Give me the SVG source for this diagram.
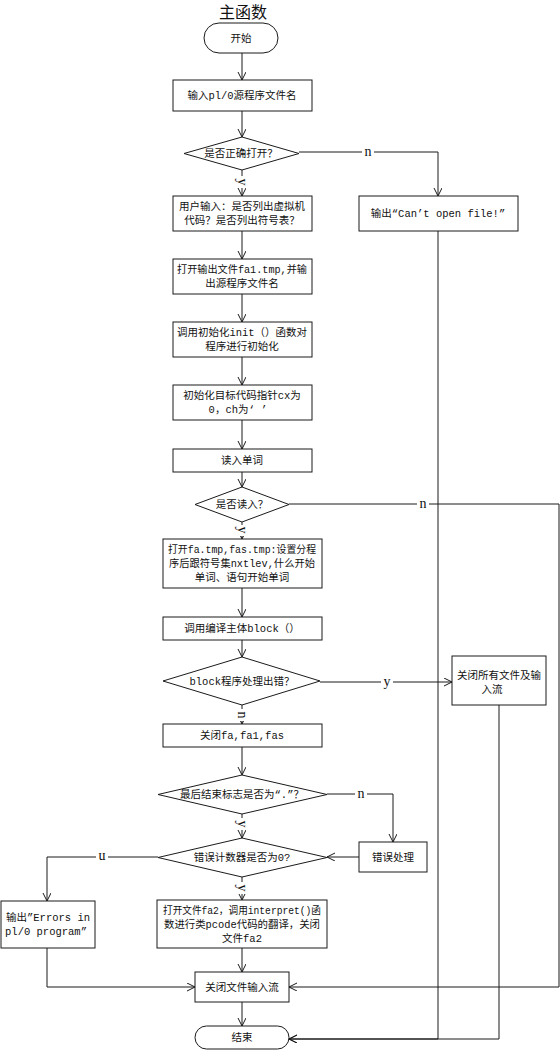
<svg xmlns="http://www.w3.org/2000/svg" width="560" height="1050" viewBox="0 0 560 1050">
  <style>
    .shape { fill: #ffffff; stroke: #1a1a1a; stroke-width: 1; }
    .txt { font-family: "Liberation Mono", "Noto Sans CJK SC", monospace; font-size: 10.5px; fill: #111; text-anchor: middle; }
    .title { font-family: "Noto Sans CJK SC", sans-serif; font-size: 16px; fill: #111; text-anchor: middle; }
    .wire { fill: none; stroke: #1a1a1a; stroke-width: 1; }
    .lbl { font-family: "Liberation Serif", serif; font-size: 14px; fill: #111; text-anchor: middle; }
    .lblbg { fill: #ffffff; }
  </style>
  <defs>
    <marker id="arrow" markerWidth="10" markerHeight="10" refX="8" refY="4" orient="auto" markerUnits="userSpaceOnUse">
      <path d="M0,0 L8,4 L0,8" fill="none" stroke="#1a1a1a" stroke-width="1"/>
    </marker>
  </defs>
  <rect width="560" height="1050" fill="#ffffff"/>

  <text class="title" x="243" y="18">主函数</text>

  <!-- connectors -->
  <g id="connectors">
    <path class="wire" d="M242,53 L242,80" marker-end="url(#arrow)"/>
    <path class="wire" d="M242,111 L242,137" marker-end="url(#arrow)"/>
    <path class="wire" d="M242,170 L242,196" marker-end="url(#arrow)"/>
    <path class="wire" d="M299,152 L438,152 L438,196" marker-end="url(#arrow)"/>
    <path class="wire" d="M242,231 L242,259" marker-end="url(#arrow)"/>
    <path class="wire" d="M242,294 L242,322" marker-end="url(#arrow)"/>
    <path class="wire" d="M242,357 L242,385" marker-end="url(#arrow)"/>
    <path class="wire" d="M242,420 L242,449" marker-end="url(#arrow)"/>
    <path class="wire" d="M242,472 L242,487" marker-end="url(#arrow)"/>
    <path class="wire" d="M289,504 L559,504 L559,987 L289,987" marker-end="url(#arrow)"/>
    <path class="wire" d="M242,522 L242,539" marker-end="url(#arrow)"/>
    <path class="wire" d="M242,588 L242,617" marker-end="url(#arrow)"/>
    <path class="wire" d="M242,640 L242,657" marker-end="url(#arrow)"/>
    <path class="wire" d="M320,682 L452,682" marker-end="url(#arrow)"/>
    <path class="wire" d="M242,705 L242,724" marker-end="url(#arrow)"/>
    <path class="wire" d="M242,747 L242,775" marker-end="url(#arrow)"/>
    <path class="wire" d="M327,794 L393,794 L393,842" marker-end="url(#arrow)"/>
    <path class="wire" d="M242,814 L242,838" marker-end="url(#arrow)"/>
    <path class="wire" d="M359,857 L327,857" marker-end="url(#arrow)"/>
    <path class="wire" d="M158,857 L47,857 L47,901" marker-end="url(#arrow)"/>
    <path class="wire" d="M242,877 L242,900" marker-end="url(#arrow)"/>
    <path class="wire" d="M242,948 L242,972" marker-end="url(#arrow)"/>
    <path class="wire" d="M47,948 L47,987 L195,987" marker-end="url(#arrow)"/>
    <path class="wire" d="M242,1002 L242,1026" marker-end="url(#arrow)"/>
    <path class="wire" d="M438,231 L438,1039 L289,1039" marker-end="url(#arrow)"/>
    <path class="wire" d="M499,705 L499,1039 L289,1039" marker-end="url(#arrow)"/>

    <!-- branch labels -->
    <rect class="lblbg" x="362" y="145" width="12" height="13"/>
    <text class="lbl" x="368" y="156">n</text>
    <rect class="lblbg" x="236" y="176" width="12" height="12"/>
    <text class="lbl" transform="translate(238,182) rotate(90)" x="0" y="0">y</text>
    <rect class="lblbg" x="417" y="497" width="12" height="13"/>
    <text class="lbl" x="423" y="508">n</text>
    <rect class="lblbg" x="236" y="525" width="12" height="11"/>
    <text class="lbl" transform="translate(238,530) rotate(90)" x="0" y="0">y</text>
    <rect class="lblbg" x="381" y="675" width="12" height="13"/>
    <text class="lbl" x="387" y="686">y</text>
    <rect class="lblbg" x="236" y="709" width="12" height="12"/>
    <text class="lbl" transform="translate(238,715) rotate(90)" x="0" y="0">n</text>
    <rect class="lblbg" x="355" y="787" width="12" height="13"/>
    <text class="lbl" x="361" y="798">n</text>
    <rect class="lblbg" x="236" y="818" width="12" height="12"/>
    <text class="lbl" transform="translate(238,824) rotate(90)" x="0" y="0">y</text>
    <rect class="lblbg" x="96" y="850" width="12" height="13"/>
    <text class="lbl" transform="translate(102,853) rotate(180)" x="0" y="0">n</text>
    <rect class="lblbg" x="236" y="882" width="12" height="12"/>
    <text class="lbl" transform="translate(238,888) rotate(90)" x="0" y="0">y</text>
  </g>

  <g id="start">
    <rect class="shape" x="204" y="23" width="74" height="30" rx="15" ry="15"/>
    <text class="txt" x="241" y="42">开始</text>
  </g>

  <g id="input-name">
    <rect class="shape" x="173" y="80" width="139" height="31"/>
    <text class="txt" x="242" y="99">输入pl/0源程序文件名</text>
  </g>

  <g id="open-ok">
    <polygon class="shape" points="242,137 299,153.5 242,170 184,153.5"/>
    <text class="txt" x="241" y="157">是否正确打开？</text>
  </g>

  <g id="user-input">
    <rect class="shape" x="173" y="196" width="139" height="35"/>
    <text class="txt" x="242" y="210">用户输入：是否列出虚拟机</text>
    <text class="txt" x="242" y="224">代码？是否列出符号表？</text>
  </g>

  <g id="cant-open">
    <rect class="shape" x="359" y="196" width="159" height="35"/>
    <text class="txt" x="438" y="217">输出“Can’t open file!”</text>
  </g>

  <g id="open-fa1">
    <rect class="shape" x="173" y="259" width="139" height="35"/>
    <text class="txt" x="242" y="273" textLength="130" lengthAdjust="spacingAndGlyphs">打开输出文件fa1.tmp,并输</text>
    <text class="txt" x="242" y="287">出源程序文件名</text>
  </g>

  <g id="init-call">
    <rect class="shape" x="173" y="322" width="139" height="35"/>
    <text class="txt" x="242" y="336" textLength="130" lengthAdjust="spacingAndGlyphs">调用初始化init（）函数对</text>
    <text class="txt" x="242" y="350">程序进行初始化</text>
  </g>

  <g id="init-cx">
    <rect class="shape" x="173" y="385" width="139" height="35"/>
    <text class="txt" x="242" y="399">初始化目标代码指针cx为</text>
    <text class="txt" x="238" y="413">0，ch为‘ ’</text>
  </g>

  <g id="read-word">
    <rect class="shape" x="173" y="449" width="139" height="23"/>
    <text class="txt" x="242" y="464">读入单词</text>
  </g>

  <g id="read-ok">
    <polygon class="shape" points="242,487 289,504.5 242,522 195,504.5"/>
    <text class="txt" x="242" y="508">是否读入？</text>
  </g>

  <g id="open-fa">
    <rect class="shape" x="163" y="539" width="159" height="49"/>
    <text class="txt" x="242" y="553" textLength="148" lengthAdjust="spacingAndGlyphs">打开fa.tmp,fas.tmp:设置分程</text>
    <text class="txt" x="242" y="567" textLength="146" lengthAdjust="spacingAndGlyphs">序后跟符号集nxtlev,什么开始</text>
    <text class="txt" x="242" y="581">单词、语句开始单词</text>
  </g>

  <g id="call-block">
    <rect class="shape" x="163" y="617" width="159" height="23"/>
    <text class="txt" x="242" y="632">调用编译主体block（）</text>
  </g>

  <g id="block-err">
    <polygon class="shape" points="242,657 320,681 242,705 163,681"/>
    <text class="txt" x="242" y="685">block程序处理出错？</text>
  </g>

  <g id="close-all">
    <rect class="shape" x="452" y="656" width="94" height="49"/>
    <text class="txt" x="499" y="679">关闭所有文件及输</text>
    <text class="txt" x="492" y="693">入流</text>
  </g>

  <g id="close-fa">
    <rect class="shape" x="163" y="724" width="159" height="23"/>
    <text class="txt" x="242" y="739">关闭fa,fa1,fas</text>
  </g>

  <g id="end-mark">
    <polygon class="shape" points="242,775 327,794.5 242,814 158,794.5"/>
    <text class="txt" x="242" y="798">最后结束标志是否为“.”？</text>
  </g>

  <g id="err-handle">
    <rect class="shape" x="359" y="842" width="68" height="30"/>
    <text class="txt" x="393" y="861">错误处理</text>
  </g>

  <g id="err-count">
    <polygon class="shape" points="242,838 327,857.5 242,877 158,857.5"/>
    <text class="txt" x="242" y="861">错误计数器是否为0?</text>
  </g>

  <g id="print-errors">
    <rect class="shape" x="1" y="901" width="94" height="47"/>
    <text class="txt" x="48" y="921">输出”Errors in</text>
    <text class="txt" x="46" y="935">pl/0 program”</text>
  </g>

  <g id="interpret">
    <rect class="shape" x="157" y="900" width="170" height="48"/>
    <text class="txt" x="242" y="914" textLength="158" lengthAdjust="spacingAndGlyphs">打开文件fa2，调用interpret()函</text>
    <text class="txt" x="242" y="928" textLength="156" lengthAdjust="spacingAndGlyphs">数进行类pcode代码的翻译，关闭</text>
    <text class="txt" x="242" y="942">文件fa2</text>
  </g>

  <g id="close-input">
    <rect class="shape" x="195" y="972" width="94" height="30"/>
    <text class="txt" x="242" y="991">关闭文件输入流</text>
  </g>

  <g id="end">
    <rect class="shape" x="195" y="1026" width="94" height="23" rx="11.5" ry="11.5"/>
    <text class="txt" x="242" y="1041">结束</text>
  </g>
</svg>
